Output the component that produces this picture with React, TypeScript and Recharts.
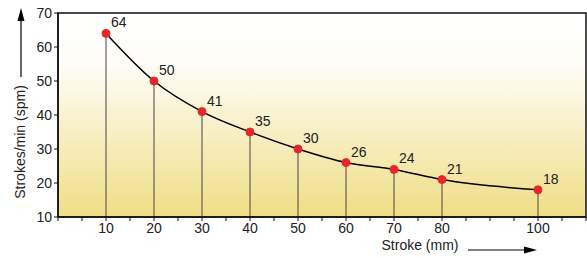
import {
  ComposedChart,
  Line,
  XAxis,
  YAxis,
  CartesianGrid,
  ReferenceArea,
  ReferenceLine,
  LabelList,
  Label,
} from "recharts";

const strokeMm = [10, 20, 30, 40, 50, 60, 70, 80, 100];
const strokesPerMin = [64, 50, 41, 35, 30, 26, 24, 21, 18];
const xTicks = [0, 5, 10, 15, 20, 25, 30, 35, 40, 45, 50, 55, 60, 65, 70, 75, 80, 85, 90, 95, 100, 105, 110];
const xLabeled = [10, 20, 30, 40, 50, 60, 70, 80, 100];
const yTicks = [10, 20, 30, 40, 50, 60, 70];

const data = strokeMm.map((s, i) => ({ stroke: s, spm: strokesPerMin[i] }));

const FONT = "Liberation Sans, Arial, sans-serif";

const PointLabel = (props: any) => {
  const { x, y, value } = props;
  return (
    <text x={x + 5} y={y - 6} fontSize={14} fontFamily={FONT} fill="#222">
      {value}
    </text>
  );
};

const YTitle = () => (
  <g>
    <text
      transform="translate(25,142) rotate(-90)"
      textAnchor="middle"
      fontSize={14}
      fontFamily={FONT}
      fill="#222"
    >
      Strokes/min (spm)
    </text>
    <line x1={21} y1={77} x2={21} y2={18} stroke="#000" strokeWidth={1.2} />
    <polygon points="21,8 17.5,21 24.5,21" fill="#000" />
  </g>
);

const XTitle = () => (
  <g>
    <text x={420} y={250} textAnchor="middle" fontSize={14} fontFamily={FONT} fill="#222">
      Stroke (mm)
    </text>
    <line x1={468} y1={250} x2={527} y2={250} stroke="#000" strokeWidth={1.2} />
    <polygon points="537,250 524,246.5 524,253.5" fill="#000" />
  </g>
);

const App = () => {
  return (
    <div style={{ position: "absolute", left: 0, top: 0 }}>
      <ComposedChart
        width={587}
        height={258}
        data={data}
        margin={{ top: 13, right: 1, left: 0, bottom: 0 }}
      >
        <defs>
          <linearGradient id="bg" x1="0" y1="0" x2="0" y2="1">
            <stop offset="0" stopColor="#ffffff" />
            <stop offset="0.25" stopColor="#fefdf8" />
            <stop offset="1" stopColor="#f0de85" />
          </linearGradient>
        </defs>
        <ReferenceArea
          x1={0}
          x2={110}
          y1={10}
          y2={70}
          fill="url(#bg)"
          fillOpacity={1}
          stroke="#111"
          strokeWidth={1.5}
        />
        <CartesianGrid vertical={false} stroke="#d8d8d0" />
        <XAxis
          dataKey="stroke"
          type="number"
          domain={[0, 110]}
          ticks={xTicks}
          interval={0}
          tickFormatter={(v: number) => (xLabeled.includes(v) ? String(v) : "")}
          tickSize={4}
          tick={{ fill: "#222", fontSize: 14, fontFamily: FONT }}
          tickLine={{ stroke: "#111" }}
          axisLine={{ stroke: "#111", strokeWidth: 1.5 }}
          height={41}
        >
          <Label content={<XTitle />} />
        </XAxis>
        <YAxis
          type="number"
          domain={[10, 70]}
          ticks={yTicks}
          interval={0}
          tickSize={4}
          width={58}
          tick={{ fill: "#222", fontSize: 14, fontFamily: FONT }}
          tickLine={{ stroke: "#111" }}
          axisLine={{ stroke: "#111", strokeWidth: 1.5 }}
        >
          <Label content={<YTitle />} />
        </YAxis>
        {data.map((d) => (
          <ReferenceLine
            key={d.stroke}
            segment={[
              { x: d.stroke, y: 10 },
              { x: d.stroke, y: d.spm },
            ]}
            stroke="#444"
            strokeWidth={1}
          />
        ))}
        <Line
          dataKey="spm"
          type="monotone"
          stroke="#000"
          strokeWidth={1.5}
          dot={{ r: 4, fill: "#e8262a", stroke: "#e8262a", strokeWidth: 1 }}
          isAnimationActive={false}
        >
          <LabelList dataKey="spm" content={<PointLabel />} />
        </Line>
      </ComposedChart>
    </div>
  );
};

export default App;
